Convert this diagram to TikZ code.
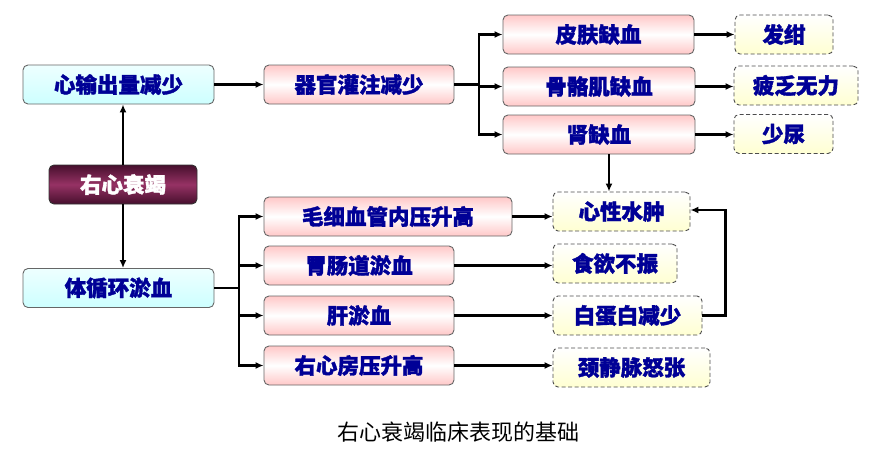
\documentclass[tikz,border=0pt]{standalone}
\usepackage{fontspec}
\setmainfont{Noto Sans CJK SC}[BoldFeatures={FakeBold=1.6}]
\usetikzlibrary{arrows.meta}
\definecolor{navytext}{RGB}{0,0,150}
\definecolor{cyanlow}{RGB}{205,255,255}
\definecolor{pinkedge}{RGB}{255,200,200}
\definecolor{maroonmid}{RGB}{150,50,100}
\definecolor{maroondark}{RGB}{70,15,45}
\definecolor{signfill}{RGB}{255,255,210}
\newcommand{\sign}[1]{\textbf{#1}} % Clinical sign.

\begin{document}
\begin{tikzpicture}[x=1pt,y=-1pt,
  box/.style={rounded corners=5pt,draw=black!60,line width=0.9pt,inner sep=0pt,
    minimum height=39pt,text=navytext,font=\fontsize{21.5}{24}\selectfont\bfseries},
  srcbox/.style={box,top color=cyanlow!35,bottom color=cyanlow},
  rootbox/.style={box,draw=black!80,text=white,top color=maroondark,
    bottom color=maroondark,middle color=maroonmid},
  organbox/.style={box,top color=pinkedge,bottom color=pinkedge,middle color=white},
  signbox/.style={box,draw=black!70,dash pattern=on 4pt off 2.5pt,top color=white,bottom color=signfill},
  link/.style={line width=2.2pt,-{Latex[length=8pt,width=7pt]}}]
\useasboundingbox (0,0) rectangle (873,453);
% left column
\node[srcbox,minimum width=191pt] (cardiac) at (118.5,84.5) {心输出量减少};
\node[rootbox,minimum width=148pt] (rhf) at (123,184.5) {右心衰竭};
\node[srcbox,minimum width=191pt] (congestion) at (118.5,288) {体循环淤血};
% organs
\node[organbox,minimum width=190pt] (perfusion) at (359,84.5) {器官灌注减少};
\node[organbox,minimum width=191pt] (skin) at (598.5,34.5) {皮肤缺血};
\node[organbox,minimum width=192pt] (muscle) at (599,86.5) {骨骼肌缺血};
\node[organbox,minimum width=192pt] (kidney) at (599,134.5) {肾缺血};
\node[organbox,minimum width=248pt] (capillary) at (388,216.5) {毛细血管内压升高};
\node[organbox,minimum width=190pt] (gi) at (359,265.5) {胃肠道淤血};
\node[organbox,minimum width=190pt] (liver) at (359,315.5) {肝淤血};
\node[organbox,minimum width=190pt] (atrium) at (359,365.5) {右心房压升高};
% signs
\node[signbox,minimum width=98pt] (cyanosis) at (784,34.5) {\sign{发绀}};
\node[signbox,minimum width=124pt] (fatigue) at (796,85.5) {\sign{疲乏无力}};
\node[signbox,minimum width=99pt] (oliguria) at (783.5,134) {\sign{少尿}};
\node[signbox,minimum width=137pt] (edema) at (621.5,211.5) {\sign{心性水肿}};
\node[signbox,minimum width=124pt] (anorexia) at (615,263.5) {\sign{食欲不振}};
\node[signbox,minimum width=149pt] (albumin) at (627.5,315.5) {\sign{白蛋白减少}};
\node[signbox,minimum width=157pt] (jvd) at (631.5,367.5) {\sign{颈静脉怒张}};
\node[font=\fontsize{22}{24}\selectfont] (caption) at (458,432) {右心衰竭临床表现的基础};

\coordinate (pj) at (479,84.5);
\coordinate (cj) at (239,288);
\draw[link] (rhf.north) -- (rhf.north |- cardiac.south);
\draw[link] (rhf.south) -- (rhf.south |- congestion.north);
\draw[link] (cardiac) -- (perfusion);
\draw[line width=2.2pt] (perfusion.east) -- (pj);
\foreach \t in {skin,muscle,kidney}
  \draw[link] (pj) |- (\t.west);
\draw[link] (skin) -- (cyanosis);
\draw[link] (muscle.east) -- (muscle.east -| fatigue.west);
\draw[link] (kidney.east) -- (kidney.east -| oliguria.west);
\draw[link] ([xshift=10pt]kidney.south) -- ([xshift=10pt]kidney.south |- edema.north);
\draw[line width=2.2pt] (congestion.east) -- (cj);
\foreach \t in {capillary,gi,liver,atrium}
  \draw[link] (cj) |- (\t.west);
\draw[link] (capillary.east) -- (capillary.east -| edema.west);
\draw[link] (gi.east) -- (gi.east -| anorexia.west);
\draw[link] (liver) -- (albumin);
\draw[link] (atrium.east) -- (atrium.east -| jvd.west);
\draw[link] (albumin.east) -- ++(23pt,0) |- ([yshift=1.5pt]edema.east);
\end{tikzpicture}
\end{document}
